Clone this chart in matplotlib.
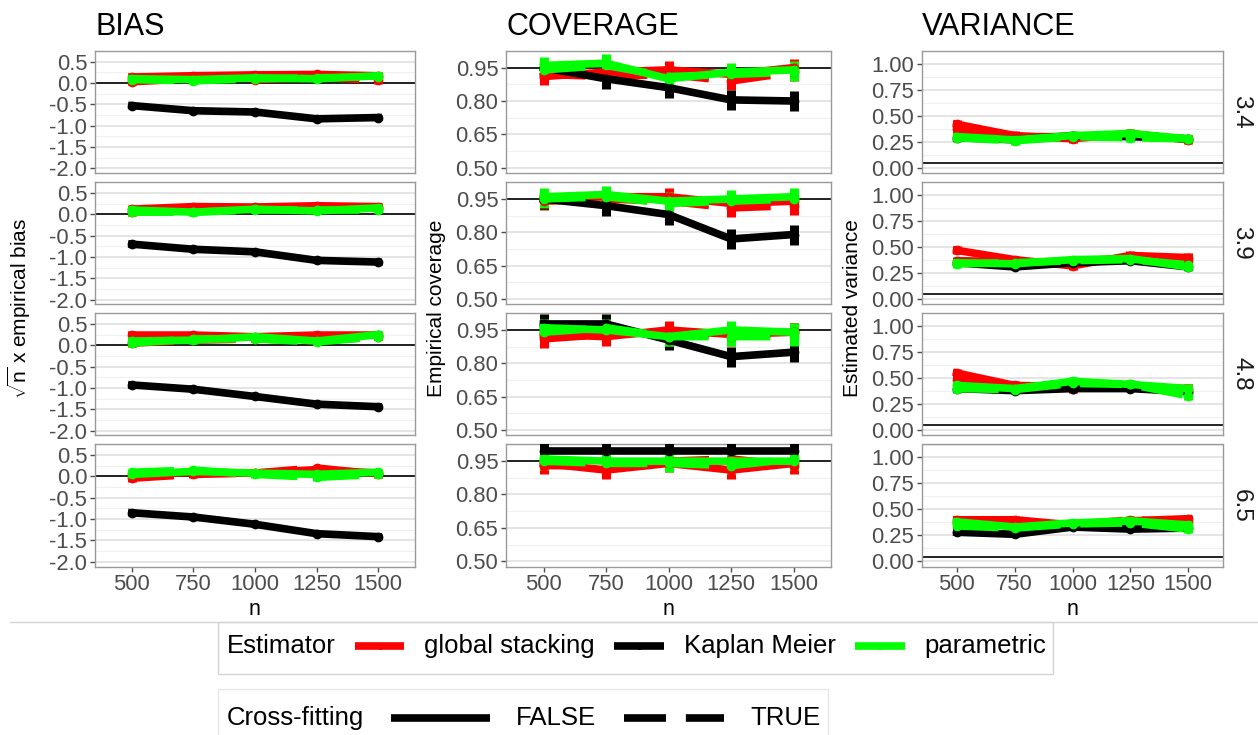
import numpy as np
import matplotlib
matplotlib.use("Agg")
import matplotlib.pyplot as plt
from matplotlib.lines import Line2D
from matplotlib.patches import Rectangle

plt.rcParams["font.family"] = ["Liberation Sans", "DejaVu Sans"]
plt.rcParams["mathtext.fontset"] = "custom"
plt.rcParams["mathtext.rm"] = "Liberation Sans"

# ---------------------------------------------------------------------------
# DATA (rows = facet 3.4, 3.9, 4.8, 6.5; columns = n)
# ---------------------------------------------------------------------------
n_labels = ["500", "750", "1000", "1250", "1500"]
facets = ["3.4", "3.9", "4.8", "6.5"]

bias_gs_false = [[0.14, 0.17, 0.19, 0.20, 0.17],
                 [0.12, 0.18, 0.17, 0.20, 0.18],
                 [0.24, 0.24, 0.20, 0.24, 0.24],
                 [0.03, 0.10, 0.08, 0.16, 0.08]]
bias_gs_true = [[0.03, 0.10, 0.08, 0.14, 0.06],
                [0.05, 0.12, 0.12, 0.15, 0.12],
                [0.05, 0.12, 0.15, 0.10, 0.20],
                [-0.04, 0.05, 0.08, 0.20, 0.05]]
bias_km = [[-0.53, -0.65, -0.68, -0.84, -0.81],
           [-0.70, -0.82, -0.88, -1.08, -1.12],
           [-0.93, -1.03, -1.20, -1.38, -1.44],
           [-0.85, -0.95, -1.12, -1.34, -1.41]]
bias_p_false = [[0.10, 0.08, 0.12, 0.10, 0.17],
                [0.10, 0.05, 0.12, 0.08, 0.15],
                [0.10, 0.12, 0.20, 0.10, 0.25],
                [0.05, 0.12, 0.08, 0.05, 0.10]]
bias_p_true = [[0.08, 0.05, 0.10, 0.12, 0.15],
               [0.05, 0.05, 0.10, 0.10, 0.10],
               [0.05, 0.15, 0.15, 0.08, 0.20],
               [0.10, 0.15, 0.05, -0.02, 0.05]]

cov_gs_false = [[0.91, 0.93, 0.94, 0.92, 0.95],
                [0.95, 0.96, 0.96, 0.93, 0.94],
                [0.93, 0.92, 0.95, 0.93, 0.94],
                [0.94, 0.91, 0.94, 0.91, 0.94]]
cov_gs_true = [[0.92, 0.91, 0.92, 0.89, 0.93],
               [0.94, 0.95, 0.94, 0.91, 0.92],
               [0.91, 0.93, 0.94, 0.92, 0.94],
               [0.93, 0.93, 0.95, 0.96, 0.93]]
cov_km = [[0.95, 0.90, 0.86, 0.805, 0.80],
          [0.95, 0.92, 0.88, 0.77, 0.79],
          [0.977, 0.977, 0.905, 0.83, 0.85],
          [0.997, 0.997, 0.997, 0.997, 0.997]]
cov_p_false = [[0.96, 0.97, 0.90, 0.93, 0.94],
               [0.96, 0.97, 0.94, 0.95, 0.96],
               [0.96, 0.95, 0.92, 0.95, 0.94],
               [0.96, 0.95, 0.95, 0.95, 0.95]]
cov_p_true = [[0.94, 0.96, 0.91, 0.92, 0.93],
              [0.95, 0.96, 0.93, 0.94, 0.95],
              [0.94, 0.96, 0.92, 0.92, 0.92],
              [0.95, 0.94, 0.94, 0.93, 0.96]]

var_gs_false = [[0.42, 0.31, 0.28, 0.33, 0.27],
                [0.47, 0.38, 0.32, 0.42, 0.40],
                [0.55, 0.43, 0.42, 0.42, 0.40],
                [0.40, 0.40, 0.35, 0.39, 0.41]]
var_gs_true = [[0.37, 0.30, 0.30, 0.30, 0.28],
               [0.37, 0.36, 0.36, 0.40, 0.37],
               [0.48, 0.41, 0.40, 0.43, 0.37],
               [0.37, 0.37, 0.35, 0.40, 0.38]]
var_km = [[0.29, 0.27, 0.31, 0.30, 0.28],
          [0.35, 0.31, 0.35, 0.37, 0.31],
          [0.40, 0.38, 0.40, 0.40, 0.37],
          [0.28, 0.26, 0.33, 0.31, 0.32]]
var_p_false = [[0.30, 0.27, 0.31, 0.33, 0.28],
               [0.35, 0.34, 0.38, 0.39, 0.31],
               [0.43, 0.40, 0.47, 0.44, 0.40],
               [0.38, 0.33, 0.37, 0.39, 0.35]]
var_p_true = [[0.29, 0.26, 0.30, 0.29, 0.28],
              [0.34, 0.35, 0.37, 0.38, 0.33],
              [0.40, 0.39, 0.45, 0.44, 0.33],
              [0.34, 0.32, 0.36, 0.37, 0.31]]

# CI half widths per metric: (global stacking, Kaplan Meier, parametric)
bias_err = [0.08, 0.06, 0.08]
cov_err = [0.04, 0.045, 0.04]
var_err = [0.04, 0.02, 0.04]

# ---------------------------------------------------------------------------
# STYLE / LAYOUT
# ---------------------------------------------------------------------------
RED, BLACK, GREEN = "#FF0000", "#000000", "#00FF00"
TICK_COLOR = "#4D4D4D"
W, H = 1258, 735
LW = 5.5
DASH = (0, (5.5, 2.6))

metrics = [
    dict(title="BIAS", ylabel=r"$\sqrt{\mathrm{n}}$ x empirical bias",
         series=[bias_gs_false, bias_gs_true, bias_km, bias_p_false, bias_p_true],
         err=bias_err, ylim=(-2.11, 0.566), ticks=[-2.0, -1.5, -1.0, -0.5, 0.0, 0.5],
         fmt="{:.1f}", ref=0.0, left=95, right=415, ylab_x=19),
    dict(title="COVERAGE", ylabel="Empirical coverage",
         series=[cov_gs_false, cov_gs_true, cov_km, cov_p_false, cov_p_true],
         err=cov_err, ylim=(0.476, 1.024), ticks=[0.50, 0.65, 0.80, 0.95],
         fmt="{:.2f}", ref=0.95, left=506, right=831, ylab_x=437),
    dict(title="VARIANCE", ylabel="Estimated variance",
         series=[var_gs_false, var_gs_true, var_km, var_p_false, var_p_true],
         err=var_err, ylim=(-0.05, 1.045), ticks=[0.0, 0.25, 0.5, 0.75, 1.0],
         fmt="{:.2f}", ref=0.045, left=922, right=1223, ylab_x=853),
]
row_tops = [51, 182.3, 313.3, 444.5]
row_h = 122

# series: (color, linestyle, err index)
series_style = [(RED, "-", 0), (RED, DASH, 0), (BLACK, "-", 1),
                (GREEN, "-", 2), (GREEN, DASH, 2)]

fig = plt.figure(figsize=(W / 100, H / 100), dpi=100)
x = np.arange(len(n_labels))

for m in metrics:
    for r in range(4):
        ax = fig.add_axes([m["left"] / W, 1 - (row_tops[r] + row_h) / H,
                           (m["right"] - m["left"]) / W, row_h / H])
        ax.set_xlim(-0.6, len(n_labels) - 0.4)
        ax.set_ylim(*m["ylim"])
        ticks = m["ticks"]
        ax.set_yticks(ticks)
        ax.set_yticklabels([m["fmt"].format(t) for t in ticks])
        minors = [(a + b) / 2 for a, b in zip(ticks[:-1], ticks[1:])]
        step = ticks[1] - ticks[0]
        minors.append(ticks[-1] + step / 2)
        ax.set_yticks(minors, minor=True)
        ax.tick_params(axis="y", which="minor", length=0)
        ax.grid(True, axis="y", which="major", color="#DEDEDE", lw=1.1)
        ax.grid(True, axis="y", which="minor", color="#F0F0F0", lw=0.8)
        ax.set_axisbelow(True)
        ax.axhline(m["ref"], color="black", lw=1.2, zorder=1)
        for s in ax.spines.values():
            s.set_color("#9A9A9A")
            s.set_linewidth(1.0)
        ax.tick_params(axis="both", labelsize=15.8, colors=TICK_COLOR,
                       length=3.5, width=1, pad=2)
        ax.set_xticks(x)
        if r == 3:
            ax.set_xticklabels(n_labels)
            ax.set_xlabel("n", fontsize=15.5, labelpad=3)
        else:
            ax.set_xticklabels([])
            ax.tick_params(axis="x", length=0)

        for data, (col, ls, ei) in zip(m["series"], series_style):
            ax.errorbar(x, data[r], yerr=m["err"][ei], color=col, ls=ls, lw=LW,
                        elinewidth=6.5, capsize=0, marker="o", ms=6, zorder=3)

        if m["title"] == "VARIANCE":
            fig.text(1241 / W, 1 - (row_tops[r] + row_h / 2) / H, facets[r],
                     rotation=270, ha="center", va="center", fontsize=17.5,
                     color="#1A1A1A")

    fig.text(m["left"] / W, 1 - 35 / H, m["title"], fontsize=22, ha="left",
             va="baseline")
    fig.text(m["ylab_x"] / W, 1 - 308.5 / H, m["ylabel"], rotation=90,
             ha="center", va="center", fontsize=15)

# ---------------------------------------------------------------------------
# LEGENDS (drawn by hand to mimic the stacked ggplot guides)
# ---------------------------------------------------------------------------
def fx(px):
    return px / W


def fy(py):
    return 1 - py / H


fig.add_artist(Line2D([fx(10), fx(1258)], [fy(622), fy(622)], color="#D4D4D4", lw=1))
fig.add_artist(Rectangle((fx(218), fy(674)), fx(1053 - 218), (674 - 622) / H,
                         fill=True, facecolor="white", edgecolor="#D4D4D4", lw=1))
fig.add_artist(Rectangle((fx(218), fy(740)), fx(828 - 218), (740 - 689) / H,
                         fill=True, facecolor="white", edgecolor="#E6E6E6", lw=1))

ly1 = fy(646)
fig.text(fx(227), ly1, "Estimator", fontsize=18.5, va="center", ha="left")
for (x0, x1, tx, label, col) in [(355, 404, 424, "global stacking", RED),
                                 (614, 664, 684, "Kaplan Meier", BLACK),
                                 (855, 905, 924, "parametric", GREEN)]:
    fig.add_artist(Line2D([fx(x0), fx(x1)], [ly1, ly1], color=col, lw=LW,
                          solid_capstyle="butt"))
    fig.add_artist(Line2D([fx((x0 + x1) / 2)], [ly1], color=col, marker="o", ms=4))
    fig.text(fx(tx), ly1, label, fontsize=18.5, va="center", ha="left")

ly2 = fy(718)
fig.text(fx(227), ly2, "Cross-fitting", fontsize=18.5, va="center", ha="left")
fig.add_artist(Line2D([fx(391), fx(490)], [ly2, ly2], color="black", lw=LW,
                      solid_capstyle="butt"))
fig.text(fx(516), ly2, "FALSE", fontsize=18.5, va="center", ha="left")
fig.add_artist(Line2D([fx(624), fx(724)], [ly2, ly2], color="black", lw=LW,
                      ls=(0, (5.5, 2.6)), dash_capstyle="butt"))
fig.text(fx(750), ly2, "TRUE", fontsize=18.5, va="center", ha="left")

fig.savefig("out.png", dpi=100)
